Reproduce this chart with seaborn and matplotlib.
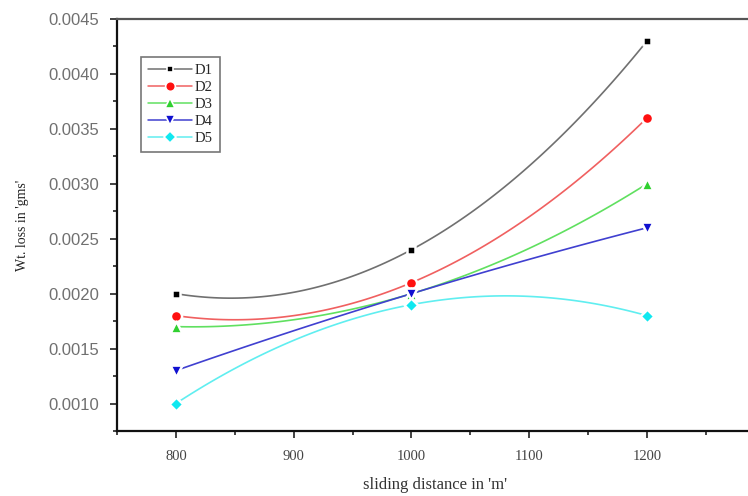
import matplotlib
matplotlib.use("Agg")
import matplotlib.pyplot as plt
import seaborn as sns
import numpy as np
from matplotlib.ticker import MultipleLocator, FormatStrFormatter
from matplotlib.lines import Line2D

sns.set_style("ticks")

distance = [800, 1000, 1200]
D1 = [0.0020, 0.0024, 0.0043]
D2 = [0.0018, 0.0021, 0.0036]
D3 = [0.0017, 0.0020, 0.0030]
D4 = [0.0013, 0.0020, 0.0026]
D5 = [0.0010, 0.0019, 0.0018]
series_names = ["D1", "D2", "D3", "D4", "D5"]
series_values = [D1, D2, D3, D4, D5]
colors = ["#000000", "#ff1010", "#30d030", "#1010d0", "#10e8f0"]
line_colors = ["#707070", "#f06060", "#60e060", "#4040d0", "#60eef0"]
markers = ["s", "o", "^", "v", "D"]
msizes = [6, 8, 8.5, 8.5, 7]

serif = ["Liberation Serif", "DejaVu Serif"]

fig = plt.figure(figsize=(7.48, 4.96), dpi=100)
ax = fig.add_axes([117/748, 1-431/496, 636/748, 412/496])

for name, vals, c, lc, m, ms in zip(series_names, series_values, colors, line_colors, markers, msizes):
    sns.regplot(x=np.array(distance, dtype=float), y=np.array(vals), order=2, ci=None,
                scatter=False, ax=ax, truncate=True,
                line_kws=dict(color=lc, lw=1.2, zorder=2))
    sns.scatterplot(x=distance, y=vals, ax=ax, marker=m, color=c, s=ms**2,
                    edgecolor="white", linewidth=1.8, zorder=3)

ax.set_xlim(750, 1290)
ax.set_ylim(0.00075, 0.0045)
ax.xaxis.set_major_locator(MultipleLocator(100))
ax.xaxis.set_minor_locator(MultipleLocator(50))
ax.yaxis.set_major_locator(MultipleLocator(0.0005))
ax.yaxis.set_minor_locator(MultipleLocator(0.00025))
ax.yaxis.set_major_formatter(FormatStrFormatter("%.4f"))

ax.tick_params(axis="both", which="major", direction="out", length=5, width=1.2, color="#222222")
ax.tick_params(axis="both", which="minor", direction="out", length=3, width=1.2, color="#222222")
ax.tick_params(axis="y", labelsize=12, labelcolor="#707070", pad=8)
ax.tick_params(axis="x", labelsize=10.5, labelcolor="#444444", pad=9)
for lab in ax.get_xticklabels():
    lab.set_family(serif)
for lab in ax.get_yticklabels():
    lab.set_family(["Liberation Sans", "DejaVu Sans"])

for side in ["left", "bottom"]:
    ax.spines[side].set_linewidth(1.6)
    ax.spines[side].set_color("#111111")
ax.spines["top"].set_visible(True)
ax.spines["top"].set_linewidth(1.6)
ax.spines["top"].set_color("#555555")
ax.spines["right"].set_visible(True)

ax.set_xlabel("sliding distance in 'm'", fontsize=12, family=serif, color="#333333", labelpad=10)
ax.set_ylabel("Wt. loss in 'gms'", fontsize=10, family=serif, color="#222222", labelpad=14)

handles = [Line2D([0], [0], color=lc, lw=1.1, marker=m, markersize=ms - 1, markerfacecolor=c,
                  markeredgecolor="white", markeredgewidth=1.2)
           for c, lc, m, ms in zip(colors, line_colors, markers, msizes)]
leg = ax.legend(handles, series_names, loc="upper left", bbox_to_anchor=(0.037, 0.908),
                borderaxespad=0.0,
                frameon=True, fancybox=False, edgecolor="#555555",
                prop={"family": serif, "size": 10.5}, handlelength=3.0, handletextpad=0.2,
                labelspacing=0.25, borderpad=0.5)
leg.get_frame().set_linewidth(1.2)

fig.savefig("out.png", dpi=100)
